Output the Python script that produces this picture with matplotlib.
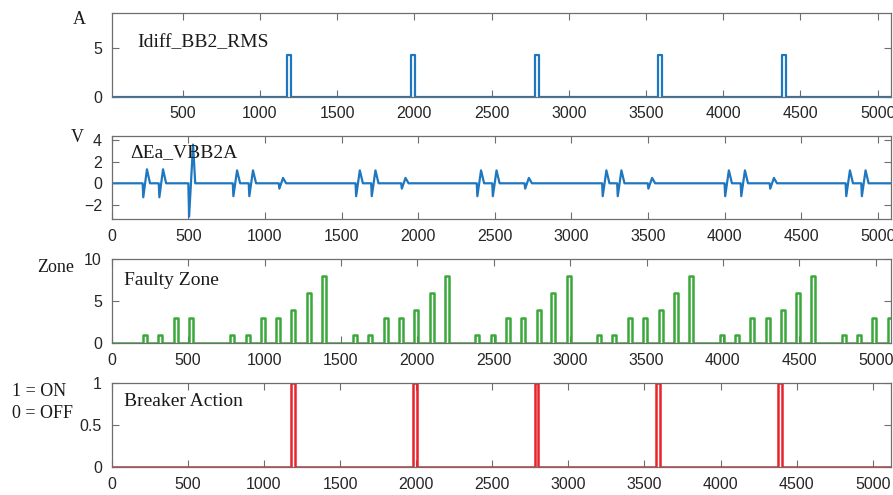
import matplotlib
matplotlib.use("Agg")
import matplotlib.pyplot as plt
import numpy as np

plt.rcParams.update({'font.family': 'Liberation Sans', 'font.size': 11.5})

W, H = 893, 495

# --- data ---
idiff_starts = [1178, 1978, 2778, 3578, 4378]
idiff_peak = 4.3
idiff_width = 26

# (time of dip, amplitude)
dea_events = [
    (206, 1.3), (311, 1.3),
    (794, 1.2), (898, 1.2), (1094, 0.5),
    (1595, 1.2), (1697, 1.2), (1893, 0.5),
    (2386, 1.2), (2487, 1.2), (2698, 0.5),
    (3204, 1.2), (3302, 1.2), (3502, 0.5),
    (4003, 1.2), (4108, 1.2), (4297, 0.5),
    (4793, 1.2), (4895, 1.2),
]
dea_big = (505, -3.1, 3.6)

zone_centers = [218, 316, 419, 517,
                789, 890, 992, 1090, 1188, 1291, 1391,
                1592, 1690, 1793, 1891, 1991, 2094, 2192,
                2393, 2493, 2594, 2694, 2794, 2890, 2995,
                3191, 3289, 3392, 3492, 3593, 3693, 3791,
                3992, 4090, 4192, 4293, 4391, 4494, 4592,
                4793, 4893, 4991, 5094]
zone_levels = [1, 1, 3, 3,
               1, 1, 3, 3, 4, 6, 8,
               1, 1, 3, 3, 4, 6, 8,
               1, 1, 3, 3, 4, 6, 8,
               1, 1, 3, 3, 4, 6, 8,
               1, 1, 3, 3, 4, 6, 8,
               1, 1, 3, 3]
zone_width = 26

breaker_starts = [1178, 1978, 2778, 3578, 4378]
breaker_width = 26


def pulses(starts, levels, width, t0=0, t1=5200):
    t, y = [t0], [0]
    for s, v in zip(starts, levels):
        t += [s, s, s + width, s + width]
        y += [0, v, v, 0]
    t.append(t1)
    y.append(0)
    return np.array(t), np.array(y)


def transients(events, big):
    pts = [(0, 0)]
    for tm, a in events:
        pts += [(tm - 4, 0), (tm, -a), (tm + 24, a), (tm + 44, 0)]
    b, lo, hi = big
    pts += [(b - 5, 0), (b, lo), (b + 26, hi), (b + 40, 0)]
    pts.append((5200, 0))
    pts.sort()
    t, y = zip(*pts)
    return np.array(t), np.array(y)


blue = '#1f77c0'
green = '#3aa83a'
red = '#e8232b'
edge = '#6e6e6e'
tick_col = '#262626'

fig = plt.figure(figsize=(W / 100, H / 100), dpi=100)


def make_axes(top, bottom, xlim, ylim, yticks, xticks):
    left, right = 111.7, 891.0
    ax = fig.add_axes([left / W, 1 - bottom / H, (right - left) / W,
                       (bottom - top) / H])
    ax.set_xlim(*xlim)
    ax.set_ylim(*ylim)
    ax.set_yticks(yticks)
    ax.set_xticks(xticks)
    ax.tick_params(direction='in', length=5, width=0.8, top=True, right=True,
                   colors=edge, labelcolor=tick_col, pad=7)
    for sp in ax.spines.values():
        sp.set_color(edge)
        sp.set_linewidth(0.9)
    return ax


ax1 = make_axes(13.3, 96.7, (40, 5086), (0, 8.6), [0, 5],
                np.arange(500, 5001, 500))
t, y = pulses(idiff_starts, [idiff_peak] * len(idiff_starts), idiff_width)
ax1.plot(t, y, color=blue, lw=1.6)

ax2 = make_axes(136, 219.3, (0, 5085), (-3.35, 4.4), [-2, 0, 2, 4],
                np.arange(0, 5001, 500))
t, y = transients(dea_events, dea_big)
ax2.plot(t, y, color=blue, lw=1.6)

ax3 = make_axes(259.3, 343.3, (0, 5100), (0, 10), [0, 5, 10],
                np.arange(0, 5001, 500))
t, y = pulses(zone_centers, zone_levels, zone_width)
t = t.astype(float)
t[1:-1] -= zone_width / 2
ax3.plot(t, y, color=green, lw=1.8)

ax4 = make_axes(382.7, 467.3, (0, 5120), (0, 1), [0, 0.5, 1],
                np.arange(0, 5001, 500))
ax4.set_yticklabels(['0', '0.5', '1'])
t, y = pulses(breaker_starts, [1] * len(breaker_starts), breaker_width)
ax4.plot(t, y, color=red, lw=1.8)


def ftext(x, y, s, size=14, ha='left'):
    fig.text(x / W, 1 - y / H, s, family='Liberation Serif', fontsize=size,
             ha=ha, va='baseline', color='#1a1a1a')


ftext(137, 46.7, 'Idiff_BB2_RMS')
ftext(130, 157.3, '\u0394Ea_VBB2A')
ftext(124, 285, 'Faulty Zone')
ftext(124, 406, 'Breaker Action')

ftext(79.5, 23.7, 'A', size=13, ha='center')
ftext(77.5, 141.7, 'V', size=13, ha='center')
ftext(55.5, 272.3, 'Zone', size=13, ha='center')
ftext(12, 396, '1 = ON', size=13)
ftext(12, 418.3, '0 = OFF', size=13)

fig.savefig('out.png', dpi=100)
